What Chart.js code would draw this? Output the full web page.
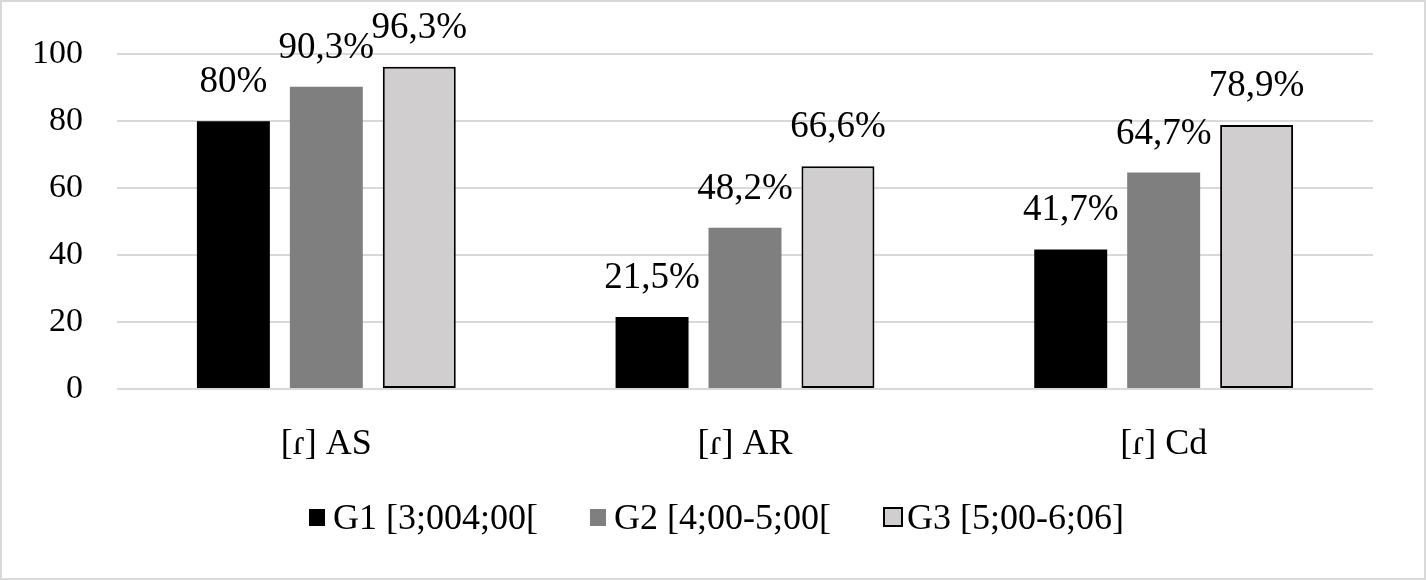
<!DOCTYPE html>
<html>
<head>
<meta charset="utf-8">
<script src="https://cdn.jsdelivr.net/npm/chart.js@4/dist/chart.umd.min.js"></script>
<style>
  body { margin: 0; background: #fff; }
  .wrap { position: relative; width: 1426px; height: 580px; }
  .wrap canvas { position: absolute; left: 0; top: 0; }
  .frame {
    position: absolute; left: 0; top: 0; width: 1426px; height: 580px;
    box-sizing: border-box; border: 2px solid #d9d9d9; pointer-events: none;
  }
  #legend {
    position: absolute; left: 309px; top: 497px; display: flex; align-items: center;
    font-family: "Liberation Serif", "Times New Roman", serif; font-size: 36px;
    line-height: 40px; color: #000; white-space: nowrap;
  }
  .item { display: flex; align-items: center; margin-right: 52px; }
  .item:last-child { margin-right: 0; }
  .box { display: inline-block; width: 16px; height: 17px; margin-right: 8px; box-sizing: border-box; }
  .box.outlined { width: 20px; height: 20px; border: 2px solid #000; margin-right: 4px; }
</style>
</head>
<body>
<div class="wrap">
  <canvas id="barChart" width="1426" height="580"></canvas>
  <div id="legend"></div>
  <div class="frame"></div>
</div>
<script>
const categories = ["[ɾ] AS", "[ɾ] AR", "[ɾ] Cd"];
const seriesNames = ["G1 [3;004;00[", "G2 [4;00-5;00[", "G3 [5;00-6;06]"];
const g1Values = [80, 21.5, 41.7];
const g2Values = [90.3, 48.2, 64.7];
const g3Values = [96.3, 66.6, 78.9];
const yTicks = [0, 20, 40, 60, 80, 100];

const fontFamily = "'Liberation Serif', 'Times New Roman', serif";
const colors = ["#000000", "#7f7f7f", "#d0cece"];

// etiquetas de valor encima de cada barra
const valueLabels = {
  id: "valueLabels",
  afterDatasetsDraw(chart) {
    const ctx = chart.ctx;
    ctx.save();
    ctx.font = "37px " + fontFamily;
    ctx.fillStyle = "#000";
    ctx.textAlign = "center";
    ctx.textBaseline = "alphabetic";
    chart.data.datasets.forEach((ds, i) => {
      chart.getDatasetMeta(i).data.forEach((bar, j) => {
        const txt = String(ds.data[j]).replace(".", ",") + "%";
        ctx.fillText(txt, bar.x, bar.y - 29);
      });
    });
    ctx.restore();
  },
};

Chart.defaults.font.family = fontFamily;
Chart.defaults.color = "#000";

const ctx = document.getElementById("barChart").getContext("2d");
new Chart(ctx, {
  type: "bar",
  data: {
    labels: categories,
    datasets: [
      { label: seriesNames[0], data: g1Values, backgroundColor: colors[0] },
      { label: seriesNames[1], data: g2Values, backgroundColor: colors[1] },
      {
        label: seriesNames[2],
        data: g3Values,
        backgroundColor: colors[2],
        borderColor: "#000",
        borderWidth: 2,
        borderSkipped: false,
      },
    ],
  },
  options: {
    responsive: false,
    animation: false,
    devicePixelRatio: 1,
    categoryPercentage: 0.666,
    barPercentage: 0.785,
    layout: { padding: { top: 51, right: 53, bottom: 100, left: 0 } },
    plugins: {
      legend: { display: false },
      tooltip: { enabled: false },
    },
    scales: {
      x: {
        grid: { display: false },
        border: { display: false },
        ticks: { font: { size: 36 }, padding: 26 },
        afterFit: (scale) => { scale.height = 91; },
      },
      y: {
        min: 0,
        max: 100,
        afterBuildTicks: (scale) => { scale.ticks = yTicks.map((v) => ({ value: v })); },
        grid: { color: "#d9d9d9", lineWidth: 2, drawTicks: false },
        border: { display: false },
        ticks: { font: { size: 34 }, padding: 34 },
        afterFit: (scale) => { scale.width = 117; },
      },
    },
  },
  plugins: [valueLabels],
});

// leyenda en HTML
const legend = document.getElementById("legend");
seriesNames.forEach((name, i) => {
  const item = document.createElement("span");
  item.className = "item";
  const box = document.createElement("span");
  box.className = "box" + (i === 2 ? " outlined" : "");
  box.style.background = colors[i];
  item.appendChild(box);
  item.appendChild(document.createTextNode(name));
  legend.appendChild(item);
});
</script>
</body>
</html>
